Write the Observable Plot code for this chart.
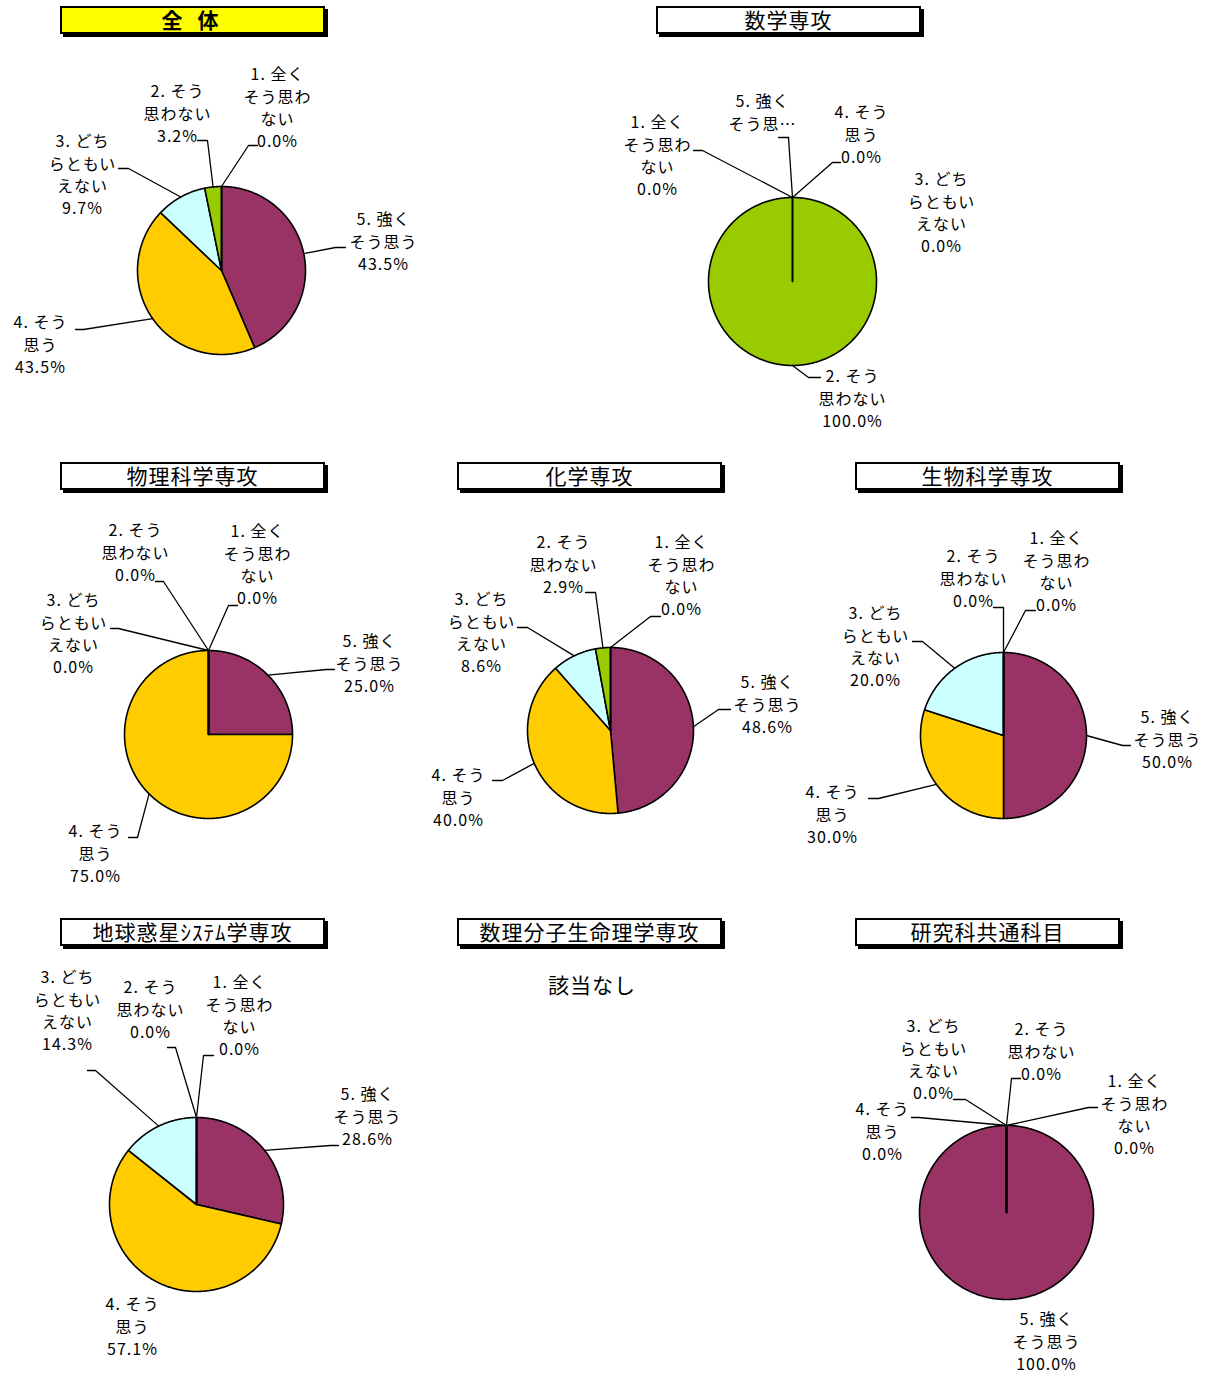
<!DOCTYPE html>
<html>
<head>
<meta charset="utf-8">
<script src="https://cdn.jsdelivr.net/npm/d3@7"></script>
<script src="https://cdn.jsdelivr.net/npm/@observablehq/plot@0.6"></script>
<style>
  body { margin: 0; background: #fff; }
  #root { position: relative; width: 1211px; height: 1374px; overflow: hidden;
          font-family: "Noto Sans CJK JP", "Noto Sans", sans-serif; color: #000; }
  .title { position: absolute; box-sizing: border-box; width: 265px; height: 28px;
           border: 2px solid #000; box-shadow: 3px 3px 0 #000; background: #fff;
           text-align: center; font-size: 21px; line-height: 23px; letter-spacing: 1px; white-space: pre; }
  .pie { position: absolute; }
  .none { position: absolute; font-size: 21px; transform: translateX(-50%); letter-spacing: 1px; }
</style>
</head>
<body>
<div id="root"></div>
<script>
// ---------------- data ----------------
const categories = ["5. 強くそう思う", "4. そう思う", "3. どちらともいえない", "2. そう思わない", "1. 全くそう思わない"];
const categoryLabelLines = [
  ["5. 強く", "そう思う"],
  ["4. そう", "思う"],
  ["3. どち", "らともい", "えない"],
  ["2. そう", "思わない"],
  ["1. 全く", "そう思わ", "ない"]
];
const categoryColors = ["#993366", "#FFCC00", "#CCFFFF", "#99CC00", "#6699FF"];

const panelTitles = ["全 体", "数学専攻", "物理科学専攻", "化学専攻", "生物科学専攻",
                     "地球惑星ｼｽﾃﾑ学専攻", "数理分子生命理学専攻", "研究科共通科目"];
const noDataText = "該当なし";

// percentages, in category order (5,4,3,2,1)
const valuesAll    = [43.5, 43.5, 9.7, 3.2, 0.0];
const valuesMath   = [0.0, 0.0, 0.0, 100.0, 0.0];
const valuesPhys   = [25.0, 75.0, 0.0, 0.0, 0.0];
const valuesChem   = [48.6, 40.0, 8.6, 2.9, 0.0];
const valuesBio    = [50.0, 30.0, 20.0, 0.0, 0.0];
const valuesEarth  = [28.6, 57.1, 14.3, 0.0, 0.0];
const valuesCommon = [100.0, 0.0, 0.0, 0.0, 0.0];

// ---------------- layout (page pixels) ----------------
// title box [left, top]; pie centre, radius; label: [text centre x, first line centre y, elbow x, elbow y, end x, end y] (no elbow = no line)
const layouts = [
  { title: 0, box: [60, 6], bold: true, bg: "#FFFF00", values: valuesAll, c: [221, 270], r: 84,
    labels: [[383, 220, 335, 247, 345, 247], [40, 323, 83, 329, 75, 329], [82, 142, 128, 168, 118, 168],
             [177, 92, 207, 140, 197, 140], [277, 75, 248, 145, 257, 145]] },
  { title: 1, box: [656, 6], values: valuesMath, c: [792, 281], r: 84,
    lineOverride: {0: ["5. 強く", "そう思…"]}, hideValue: {0: true},
    labels: [[762, 102, 788, 137, 778, 137], [861, 113, 832, 162, 840, 162], [941, 180],
             [852, 377, 808, 377, 820, 377], [657, 123, 702, 150, 693, 150]] },
  { title: 2, box: [60, 462], values: valuesPhys, c: [208, 734], r: 84,
    labels: [[369, 642, 326, 669, 334, 669], [95, 832, 137, 837, 128, 837], [73, 601, 118, 628, 110, 628],
             [135, 531, 163, 581, 155, 581], [257, 532, 228, 605, 237, 605]] },
  { title: 3, box: [457, 462], values: valuesChem, c: [610, 730], r: 83,
    labels: [[767, 683, 718, 709, 730, 709], [458, 776, 502, 780, 492, 780], [481, 600, 527, 627, 517, 627],
             [563, 543, 595, 592, 585, 592], [681, 543, 650, 616, 660, 616]] },
  { title: 4, box: [855, 462], values: valuesBio, c: [1003, 735], r: 83,
    labels: [[1167, 718, 1122, 745, 1130, 745], [832, 793, 878, 798, 868, 798], [875, 614, 922, 641, 912, 641],
             [973, 557, 1003, 607, 993, 607], [1056, 539, 1025, 610, 1035, 610]] },
  { title: 5, box: [60, 918], values: valuesEarth, c: [196, 1204], r: 87,
    labels: [[367, 1095, 330, 1145, 338, 1145], [132, 1305], [67, 978, 95, 1070, 87, 1070],
             [150, 988, 175, 1047, 167, 1047], [239, 983, 203, 1055, 213, 1055]] },
  { title: 6, box: [457, 918], values: null, noData: [592, 969] },
  { title: 7, box: [855, 918], values: valuesCommon, c: [1006, 1212], r: 87,
    labels: [[1046, 1320], [882, 1110, 918, 1117, 911, 1117], [933, 1027, 965, 1099, 953, 1099],
             [1041, 1030, 1011, 1078, 1020, 1078], [1134, 1082, 1088, 1107, 1097, 1107]] }
];

// ---------------- drawing ----------------
const root = document.getElementById("root");
const S = 700, H = S / 2;

function piePlot(L) {
  const values = L.values, r = L.r, [cx, cy] = L.c;
  const arcs = d3.pie().sort(null).value(d => d)(values);
  const sliceRows = [], leaderRows = [], labelRows = [];
  arcs.forEach((a, i) => {
    const cat = categories[i];
    sliceRows.push({cat, x: 0, y: 0});
    const n = Math.max(1, Math.ceil((a.endAngle - a.startAngle) / (Math.PI / 360)));
    for (let k = 0; k <= n; k++) {
      const t = a.startAngle + (a.endAngle - a.startAngle) * k / n;
      sliceRows.push({cat, x: r * Math.sin(t), y: -r * Math.cos(t)});
    }
    sliceRows.push({cat, x: 0, y: 0});

    const lab = L.labels[i];
    const lines = (L.lineOverride && L.lineOverride[i]) || categoryLabelLines[i];
    const txt = (L.hideValue && L.hideValue[i]) ? lines.join("\n")
              : lines.join("\n") + "\n" + values[i].toFixed(1) + "%";
    labelRows.push({cat, x: lab[0] - cx, y: lab[1] - cy - 11, text: txt});
    if (lab.length > 2) {
      const mid = (a.startAngle + a.endAngle) / 2;
      leaderRows.push({cat, x: r * Math.sin(mid), y: -r * Math.cos(mid)});
      leaderRows.push({cat, x: lab[2] - cx, y: lab[3] - cy});
      leaderRows.push({cat, x: lab[4] - cx, y: lab[5] - cy});
    }
  });

  const svg = Plot.plot({
    width: S, height: S, margin: 0,
    x: {domain: [-H, H], axis: null},
    y: {domain: [H, -H], axis: null},
    color: {domain: categories, range: categoryColors},
    style: {overflow: "visible", background: "transparent",
            fontFamily: '"Noto Sans CJK JP", "Noto Sans", sans-serif', fontSize: "16px", letterSpacing: "1px"},
    marks: [
      Plot.line(sliceRows, {x: "x", y: "y", z: "cat", fill: "cat", stroke: "#000", strokeWidth: 1.6, strokeLinejoin: "round"}),
      Plot.line(leaderRows, {x: "x", y: "y", z: "cat", stroke: "#000", strokeWidth: 1.3}),
      Plot.text(labelRows, {x: "x", y: "y", text: "text", textAnchor: "middle", lineAnchor: "top",
                            lineHeight: 1.39, fontSize: 16, fill: "#000"})
    ]
  });
  svg.classList.add("pie");
  svg.style.left = (cx - H) + "px";
  svg.style.top = (cy - H) + "px";
  return svg;
}

layouts.forEach(L => { if (L.values) root.appendChild(piePlot(L)); });

layouts.forEach(L => {
  const d = document.createElement("div");
  d.className = "title";
  d.style.left = L.box[0] + "px";
  d.style.top = L.box[1] + "px";
  if (L.bg) d.style.background = L.bg;
  if (L.bold) { d.style.fontWeight = "bold"; d.style.letterSpacing = "5px"; }
  d.textContent = panelTitles[L.title];
  root.appendChild(d);
  if (L.noData) {
    const n = document.createElement("div");
    n.className = "none";
    n.style.left = L.noData[0] + "px";
    n.style.top = L.noData[1] + "px";
    n.textContent = noDataText;
    root.appendChild(n);
  }
});
</script>
</body>
</html>
